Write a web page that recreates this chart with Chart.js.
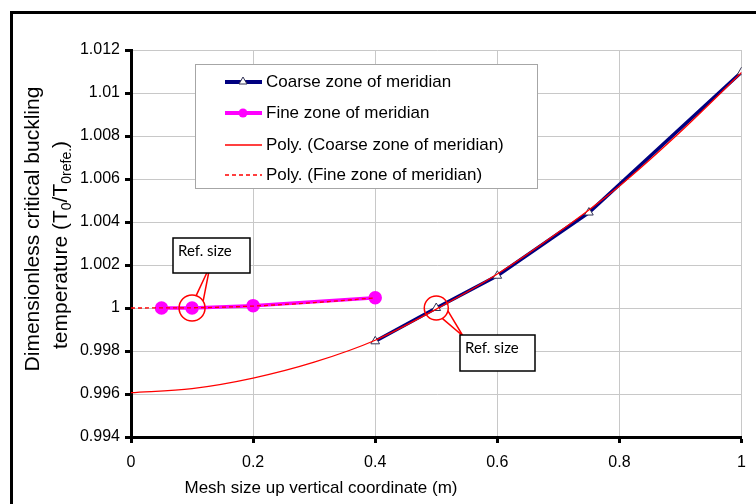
<!DOCTYPE html>
<html>
<head>
<meta charset="utf-8">
<script src="https://cdn.jsdelivr.net/npm/chart.js@4.4.0/dist/chart.umd.min.js"></script>
<style>
    html, body { margin: 0; padding: 0; background: #fff; }
    #wrap { position: relative; width: 756px; height: 504px; overflow: hidden; }
    #frame { position: absolute; left: 10px; top: 11px; width: 800px; height: 600px;
             border-top: 3px solid #000; border-left: 3px solid #000; }
    #chart { position: absolute; left: 0; top: 0; }
</style>
</head>
<body>
<div id="wrap">
    <div id="frame"></div>
    <canvas id="chart" width="756" height="504"></canvas>
</div>
<script>
// Data
const coarseX = [0.4, 0.5, 0.6, 0.75, 1.0];
const coarseY = [0.99845, 1.0, 1.0015, 1.00444, 1.01097];
const fineX = [0.05, 0.1, 0.2, 0.4];
const fineY = [1.0, 1.0, 1.00011, 1.00048];
const polyCoarseX = [0, 0.1, 0.2, 0.3, 0.4, 0.5, 0.6, 0.7, 0.8, 0.9, 1.0];
const polyCoarseY = [0.99606, 0.99625, 0.99674, 0.99748, 0.9985, 0.99995, 1.00158, 1.00352, 1.00568, 1.0082, 1.01095];
const polyFineX = [0, 0.1, 0.2, 0.3, 0.4];
const polyFineY = [1.0, 1.00001, 1.00009, 1.00025, 1.00047];
const xTicks = [0, 0.2, 0.4, 0.6, 0.8, 1];
const yTicks = [0.994, 0.996, 0.998, 1, 1.002, 1.004, 1.006, 1.008, 1.01, 1.012];

const legendLabels = [
    'Coarse zone of meridian',
    'Fine zone of meridian',
    'Poly. (Coarse zone of meridian)',
    'Poly. (Fine zone of meridian)'
];

const FONT = '"Liberation Sans", Arial, sans-serif';
const NAVY = '#000080';
const MAGENTA = '#ff00ff';
const RED = '#ff0000';

function pts(xs, ys) {
    return xs.map((x, i) => ({ x: x, y: ys[i] }));
}

// text with subscript parts, centred on (0,0) of the current transform
function drawRich(ctx, parts, size) {
    const subSize = Math.round(size * 0.68);
    let total = 0;
    parts.forEach(p => {
        ctx.font = (p.sub ? subSize : size) + 'px ' + FONT;
        total += ctx.measureText(p.t).width;
    });
    let x = -total / 2;
    parts.forEach(p => {
        ctx.font = (p.sub ? subSize : size) + 'px ' + FONT;
        ctx.fillText(p.t, x, p.sub ? size * 0.3 : 0);
        x += ctx.measureText(p.t).width;
    });
}

const titlesPlugin = {
    id: 'titles',
    afterDraw(chart) {
        const ctx = chart.ctx;
        ctx.save();
        ctx.fillStyle = '#000';
        ctx.textBaseline = 'middle';
        ctx.textAlign = 'left';
        // y title
        ctx.save();
        ctx.translate(33, 229);
        ctx.rotate(-Math.PI / 2);
        drawRich(ctx, [{ t: 'Dimensionless critical buckling' }], 21);
        ctx.restore();
        ctx.save();
        ctx.translate(61, 245);
        ctx.rotate(-Math.PI / 2);
        drawRich(ctx, [
            { t: 'temperature (T' }, { t: '0', sub: true },
            { t: '/T' }, { t: '0refe.', sub: true }, { t: ')' }
        ], 21);
        ctx.restore();
        // x title
        ctx.translate(321, 488);
        drawRich(ctx, [{ t: 'Mesh size up vertical coordinate (m)' }], 17);
        ctx.restore();
    }
};

const legendPlugin = {
    id: 'customLegend',
    afterDatasetsDraw(chart) {
        const ctx = chart.ctx;
        ctx.save();
        ctx.fillStyle = '#fff';
        ctx.fillRect(195, 64, 342, 124);
        ctx.strokeStyle = '#a6a6a6';
        ctx.lineWidth = 1;
        ctx.strokeRect(195.5, 64.5, 342, 124);
        const rows = [82, 113, 145, 175];
        const x0 = 225, x1 = 262, xm = 243;
        rows.forEach((y, i) => {
            ctx.setLineDash([]);
            if (i === 0) {
                ctx.strokeStyle = NAVY; ctx.lineWidth = 4;
                ctx.beginPath(); ctx.moveTo(x0, y); ctx.lineTo(x1, y); ctx.stroke();
                ctx.fillStyle = '#fff'; ctx.strokeStyle = '#333355'; ctx.lineWidth = 1;
                ctx.beginPath(); ctx.moveTo(xm, y - 5); ctx.lineTo(xm + 4, y + 2); ctx.lineTo(xm - 4, y + 2); ctx.closePath();
                ctx.fill(); ctx.stroke();
            } else if (i === 1) {
                ctx.strokeStyle = MAGENTA; ctx.lineWidth = 4;
                ctx.beginPath(); ctx.moveTo(x0, y); ctx.lineTo(x1, y); ctx.stroke();
                ctx.fillStyle = MAGENTA;
                ctx.beginPath(); ctx.arc(xm, y, 4.5, 0, Math.PI * 2); ctx.fill();
            } else {
                ctx.strokeStyle = RED; ctx.lineWidth = 1.5;
                if (i === 3) ctx.setLineDash([4, 3]);
                ctx.beginPath(); ctx.moveTo(x0, y); ctx.lineTo(x1, y); ctx.stroke();
            }
            ctx.setLineDash([]);
            ctx.fillStyle = '#000';
            ctx.font = '17px ' + FONT;
            ctx.textBaseline = 'middle';
            ctx.fillText(legendLabels[i], 266, y);
        });
        ctx.restore();
    }
};

// "Ref. size" callouts
function callout(ctx, cx, cy, r, a1, a2, tip, box) {
    ctx.strokeStyle = RED;
    ctx.lineWidth = 1.5;
    ctx.beginPath();
    ctx.moveTo(cx + r * Math.cos(a1), cy + r * Math.sin(a1));
    ctx.lineTo(tip[0], tip[1]);
    ctx.lineTo(cx + r * Math.cos(a2), cy + r * Math.sin(a2));
    ctx.stroke();
    ctx.beginPath();
    ctx.arc(cx, cy, r, 0, Math.PI * 2);
    ctx.stroke();
    ctx.fillStyle = '#fff';
    ctx.fillRect(box[0], box[1], box[2], box[3]);
    ctx.strokeStyle = '#000';
    ctx.lineWidth = 1.5;
    ctx.strokeRect(box[0], box[1], box[2], box[3]);
    ctx.fillStyle = '#000';
    ctx.font = '15px Lato, "Open Sans", sans-serif';
    ctx.textBaseline = 'middle';
    ctx.fillText('Ref. size', box[0] + 5, box[1] + 13);
}

const annotationPlugin = {
    id: 'refSize',
    afterDatasetsDraw(chart) {
        const ctx = chart.ctx;
        const xs = chart.scales.x, ys = chart.scales.y;
        ctx.save();
        const c1x = xs.getPixelForValue(fineX[1]), c1y = ys.getPixelForValue(fineY[1]);
        callout(ctx, c1x, c1y, 13, -1.25, -0.55, [210, 266], [173, 238, 77, 35]);
        const c2x = xs.getPixelForValue(coarseX[1]), c2y = ys.getPixelForValue(coarseY[1]);
        callout(ctx, c2x, c2y, 12, 0.25, 1.05, [463, 336], [460, 335, 75, 36]);
        ctx.restore();
    }
};

const ctx = document.getElementById('chart').getContext('2d');
new Chart(ctx, {
    type: 'scatter',
    data: {
        datasets: [
            {
                label: legendLabels[2],
                data: pts(polyCoarseX, polyCoarseY),
                showLine: true,
                borderColor: RED,
                borderWidth: 1.3,
                pointRadius: 0,
                cubicInterpolationMode: 'monotone',
                order: 0
            },
            {
                label: legendLabels[3],
                data: pts(polyFineX, polyFineY),
                showLine: true,
                borderColor: RED,
                borderWidth: 1.3,
                borderDash: [4, 3],
                pointRadius: 0,
                cubicInterpolationMode: 'monotone',
                order: 0
            },
            {
                label: legendLabels[0],
                data: pts(coarseX, coarseY),
                showLine: true,
                borderColor: NAVY,
                borderWidth: 3.5,
                pointStyle: 'triangle',
                pointRadius: 5,
                pointBackgroundColor: '#fff',
                pointBorderColor: '#333355',
                pointBorderWidth: 1,
                order: 1
            },
            {
                label: legendLabels[1],
                data: pts(fineX, fineY),
                showLine: true,
                borderColor: MAGENTA,
                borderWidth: 3.5,
                pointStyle: 'circle',
                pointRadius: 5,
                pointBackgroundColor: MAGENTA,
                pointBorderColor: MAGENTA,
                order: 1
            }
        ]
    },
    options: {
        responsive: false,
        animation: false,
        layout: { padding: { left: 0, top: 50, right: 14, bottom: 0 } },
        plugins: {
            legend: { display: false },
            tooltip: { enabled: false }
        },
        scales: {
            x: {
                type: 'linear',
                min: 0,
                max: 1,
                afterFit: s => { s.height = 67; },
                afterBuildTicks: s => { s.ticks = xTicks.map(v => ({ value: v })); },
                border: { color: '#000', width: 3 },
                grid: { color: '#c8c8c8', lineWidth: 1, tickColor: '#000', tickWidth: 3, tickLength: 6 },
                ticks: {
                    color: '#000',
                    font: { family: FONT, size: 16 },
                    padding: 10,
                    callback: v => String(Number(v.toFixed(1)))
                }
            },
            y: {
                type: 'linear',
                min: 0.994,
                max: 1.012,
                afterFit: s => { s.width = 131; },
                afterBuildTicks: s => { s.ticks = yTicks.map(v => ({ value: v })); },
                border: { color: '#000', width: 3 },
                grid: { color: '#c8c8c8', lineWidth: 1, tickColor: '#000', tickWidth: 3, tickLength: 6 },
                ticks: {
                    color: '#000',
                    font: { family: FONT, size: 16 },
                    padding: 5,
                    callback: v => String(Number(v.toFixed(3)))
                }
            }
        }
    },
    plugins: [legendPlugin, annotationPlugin, titlesPlugin]
});
</script>
</body>
</html>
